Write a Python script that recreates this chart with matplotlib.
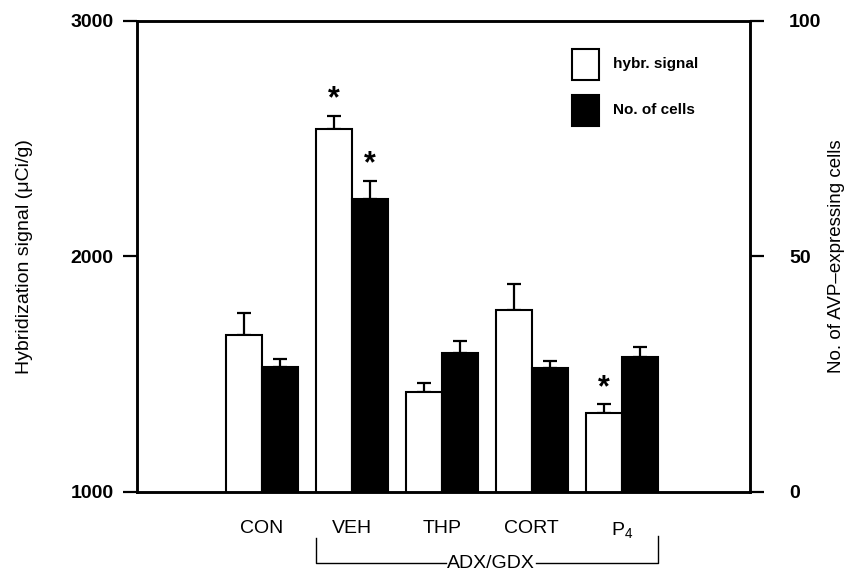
import numpy as np
import matplotlib
matplotlib.use('Agg')
import matplotlib.pyplot as plt
from matplotlib.patches import Rectangle
import matplotlib.transforms as mtrans

plt.rcParams['font.family'] = ['Liberation Sans', 'DejaVu Sans']
plt.rcParams['mathtext.default'] = 'regular'

# values
groups = ['CON', 'VEH', 'THP', 'CORT', r'P$_4$']
hybr_signal = [1665, 2541, 1425, 1773, 1337]
hybr_sem = [94, 57, 39, 109, 35]
n_cells = [26.6, 62.3, 29.6, 26.3, 28.7]
n_cells_sem = [1.6, 3.7, 2.5, 1.5, 2.0]
hybr_star = [False, True, False, False, True]
cells_star = [False, True, False, False, False]
left_ticks = [1000, 2000, 3000]
right_ticks = [0, 50, 100]

x = np.arange(len(groups))
w = 0.4

fig = plt.figure(figsize=(8.49, 5.73), dpi=100)
ax = fig.add_axes([0.1614, 0.1414, 0.7220, 0.8220])
ax2 = ax.twinx()

ax.bar(x - w/2, hybr_signal, w, color='white', edgecolor='black', linewidth=1.5, zorder=2)
ax.errorbar(x - w/2, hybr_signal, yerr=[np.zeros(5), hybr_sem], fmt='none',
            ecolor='black', elinewidth=1.6, capsize=5, capthick=1.6, zorder=1)
ax2.bar(x + w/2, n_cells, w, color='black', edgecolor='black', linewidth=1.5, zorder=2)
ax2.errorbar(x + w/2, n_cells, yerr=[np.zeros(5), n_cells_sem], fmt='none',
             ecolor='black', elinewidth=1.6, capsize=5, capthick=1.6, zorder=1)

for i in range(len(groups)):
    if hybr_star[i]:
        ax.annotate('*', (x[i] - w/2, hybr_signal[i] + hybr_sem[i]), xytext=(0, 1),
                    textcoords='offset points', ha='center', va='bottom',
                    fontsize=22, fontweight='bold')
    if cells_star[i]:
        ax2.annotate('*', (x[i] + w/2, n_cells[i] + n_cells_sem[i]), xytext=(0, 1),
                     textcoords='offset points', ha='center', va='bottom',
                     fontsize=22, fontweight='bold')

ax.set_xlim(-1.383, 5.425)
ax.set_ylim(1000, 3000)
ax2.set_ylim(0, 100)
ax.set_yticks(left_ticks)
ax2.set_yticks(right_ticks)
ax.set_yticklabels([str(t) for t in left_ticks], fontsize=14, fontweight='bold')
ax2.set_yticklabels([str(t) for t in right_ticks], fontsize=14, fontweight='bold')
ax.set_xticks(x)
ax.set_xticklabels(groups, fontsize=14)
ax.tick_params(axis='x', length=0, pad=20)
ax.tick_params(axis='y', direction='out', length=10, width=1.6, pad=7)
ax2.tick_params(axis='y', direction='out', length=10, width=1.6, pad=18)

for a in (ax, ax2):
    for s in a.spines.values():
        s.set_linewidth(1.8)

ax.set_ylabel('Hybridization signal (μCi/g)', fontsize=14)
ax.yaxis.set_label_coords(-0.17, 0.5)
ax2.set_ylabel('No. of AVP\u2013expressing cells', fontsize=13.5, rotation=90)
ax2.yaxis.set_label_coords(1.128, 0.5)

# bracket under VEH..P4
trans = mtrans.blended_transform_factory(ax.transData, ax.transAxes)
bl, br = x[1] - w, x[4] + w
ax.plot([bl, bl, 2.05], [-0.098, -0.151, -0.151], color='black', lw=1.0,
        transform=trans, clip_on=False)
ax.plot([3.05, br, br], [-0.151, -0.151, -0.093], color='black', lw=1.0,
        transform=trans, clip_on=False)
ax.text((bl + br) / 2 + 0.05, -0.151, 'ADX/GDX', transform=trans, ha='center',
        va='center', fontsize=14)

# legend
ax.add_patch(Rectangle((0.709, 0.875), 0.044, 0.066, transform=ax.transAxes,
                       facecolor='white', edgecolor='black', lw=1.5, clip_on=False, zorder=5))
ax.add_patch(Rectangle((0.709, 0.776), 0.044, 0.066, transform=ax.transAxes,
                       facecolor='black', edgecolor='black', lw=1.5, clip_on=False, zorder=5))
ax.text(0.777, 0.909, 'hybr. signal', transform=ax.transAxes, fontsize=11,
        fontweight='bold', va='center')
ax.text(0.777, 0.810, 'No. of cells', transform=ax.transAxes, fontsize=11,
        fontweight='bold', va='center')

plt.savefig('out.png', dpi=100)
